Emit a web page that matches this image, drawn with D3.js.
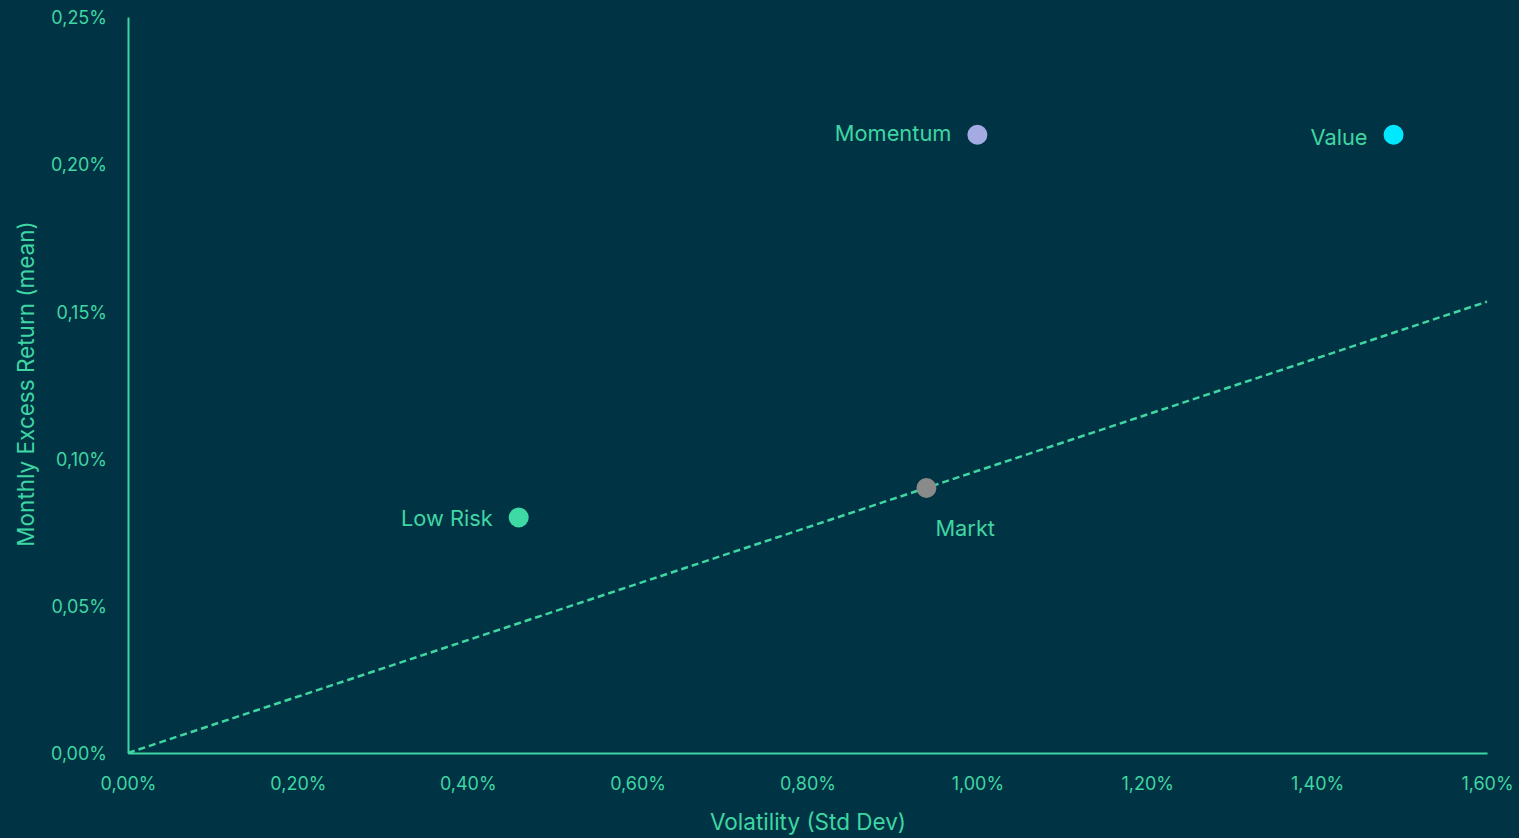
<!DOCTYPE html>
<html>
<head>
<meta charset="utf-8">
<script src="https://cdn.jsdelivr.net/npm/d3@7"></script>
<style>
html,body{margin:0;padding:0;background:#003344;}
svg{display:block;}
text{font-family:Inter,"Open Sans",sans-serif;}
</style>
</head>
<body>
<script>
const names = ["Momentum","Value","Low Risk","Markt"];
const volatility = [1.00, 1.49, 0.46, 0.94];
const returns = [0.210, 0.210, 0.080, 0.090];
const colors = ["#A4ABE3","#00E8FF","#3FD9A6","#8A8A8A"];
const xTicks = [0,0.2,0.4,0.6,0.8,1.0,1.2,1.4,1.6];
const yTicks = [0,0.05,0.10,0.15,0.20,0.25];
const lineX = [0, 1.6];
const lineY = [0, 0.1533];

const W = 1519, H = 838;
const green = "#3FD6A3";
const svg = d3.select("body").append("svg").attr("width",W).attr("height",H);
svg.append("rect").attr("width",W).attr("height",H).attr("fill","#003344");

const x = d3.scaleLinear().domain([0,1.6]).range([128,1487]);
const y = d3.scaleLinear().domain([0,0.25]).range([753,17]);
const fmt = v => v.toFixed(2).replace(".", ",") + "%";

const xAxis = svg.append("g").attr("transform","translate(0,753)")
  .call(d3.axisBottom(x).tickValues(xTicks).tickFormat(fmt).tickSize(0).tickPadding(24));
const yAxis = svg.append("g").attr("transform","translate(128,1)")
  .call(d3.axisLeft(y).tickValues(yTicks).tickFormat(fmt).tickSize(0).tickPadding(21));
[xAxis,yAxis].forEach(a=>{
  a.select(".domain").attr("stroke",green).attr("stroke-width",2);
  a.selectAll("text").attr("fill",green).attr("font-size",18).attr("font-family","Inter,sans-serif");
});
yAxis.select(".domain").attr("transform","translate(0,-1)");

svg.append("text").attr("x",808).attr("y",830).attr("text-anchor","middle")
  .attr("fill",green).attr("font-size",22.5).text("Volatility (Std Dev)");
svg.append("text").attr("transform","translate(34,384) rotate(-90)").attr("text-anchor","middle")
  .attr("fill",green).attr("font-size",22.5).text("Monthly Excess Return (mean)");

svg.append("line")
  .attr("x1",x(lineX[0])).attr("y1",y(lineY[0]))
  .attr("x2",x(lineX[1])).attr("y2",y(lineY[1]))
  .attr("stroke",green).attr("stroke-width",2.5).attr("stroke-dasharray","7,4");

const dyOff = {"Momentum":6, "Value":10, "Low Risk":9, "Markt":48};
const data = names.map((n,i)=>({n, v:volatility[i], r:returns[i], c:colors[i]}));
svg.selectAll("circle.pt").data(data).enter().append("circle")
  .attr("class","pt").attr("cx",d=>x(d.v)).attr("cy",d=>y(d.r)).attr("r",10).attr("fill",d=>d.c);

svg.selectAll("text.lbl").data(data).enter().append("text")
  .attr("class","lbl")
  .attr("x",d=> d.n==="Markt" ? x(d.v)+9 : x(d.v)-26)
  .attr("y",d=> y(d.r)+dyOff[d.n])
  .attr("text-anchor",d=> d.n==="Markt" ? "start" : "end")
  .attr("fill",green).attr("font-size",21.8).text(d=>d.n);
</script>
</body>
</html>
